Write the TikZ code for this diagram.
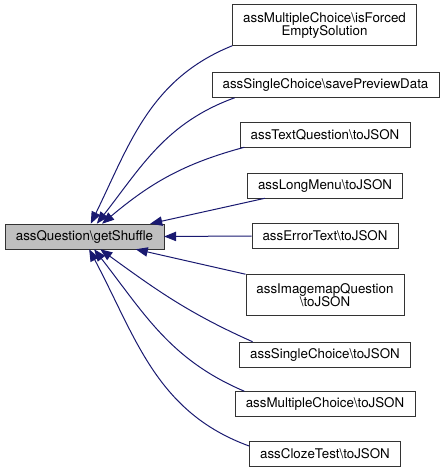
\documentclass[tikz,border=0pt]{standalone}
\usepackage{fontspec}
\setmainfont{TeX Gyre Heros}
\usepackage{xcolor}
\usetikzlibrary{arrows.meta, positioning}
\definecolor{edgeblue}{HTML}{191970}
\definecolor{rootgray}{HTML}{BFBFBF}

\tikzset{
	fn/.style={draw=black!80, fill=white, inner xsep=8pt, inner ysep=0pt, minimum height=18.75pt,
		font=\fontsize{10pt}{9.75pt}\selectfont, align=center},
	fntwo/.style={fn, minimum height=30.75pt},
	root/.style={fn, fill=rootgray},
	call/.style={->, edgeblue, line width=0.75pt}
}

\begin{document}
\begin{tikzpicture}[> = {Triangle[length=9pt, width=7pt]}, x=0.75pt, y=-0.75pt]
	\useasboundingbox (0,0) rectangle (444,474);
	
	% function of the graph
	\node [root] (shuffle) at (84.5,236.5) {assQuestion\textbackslash getShuffle};
	
	% callers
	\node [fntwo] (mcForced) at (324.5,25) {assMultipleChoice\textbackslash isForced\\EmptySolution};
	\node [fn] (scPreview) at (325.5,85) {assSingleChoice\textbackslash savePreviewData};
	\node [fn] (textJson) at (325,134.5) {assTextQuestion\textbackslash toJSON};
	\node [fn] (menuJson) at (325,185.5) {assLongMenu\textbackslash toJSON};
	\node [fn] (errorJson) at (325,236) {assErrorText\textbackslash toJSON};
	\node [fntwo] (imageJson) at (325,295) {assImagemapQuestion\\\textbackslash toJSON};
	\node [fn] (scJson) at (325,354.5) {assSingleChoice\textbackslash toJSON};
	\node [fn] (mcJson) at (325,404) {assMultipleChoice\textbackslash toJSON};
	\node [fn] (clozeJson) at (325,454) {assClozeTest\textbackslash toJSON};
	
	% calls, upper
	\draw [call] (mcForced.south west) to [out=202, in=64] (shuffle.64);
	\draw [call] (scPreview.188) to [out=200, in=52] (shuffle.46);
	\draw [call] (textJson.189) to [out=195, in=40] (shuffle.36);
	\draw [call] (menuJson.192) -- (shuffle.11);
	\draw [call] (errorJson.west) -- (shuffle.east);
	
	% calls, lower
	\draw [call] (imageJson.north west) -- (shuffle.346);
	\draw [call] (scJson.170) to [out=156, in=-36] (shuffle.321);
	\draw [call] (mcJson.171) to [out=157, in=-52] (shuffle.307);
	\draw [call] (clozeJson.174) to [out=160, in=-62] (shuffle.290);
	
\end{tikzpicture}
\end{document}
